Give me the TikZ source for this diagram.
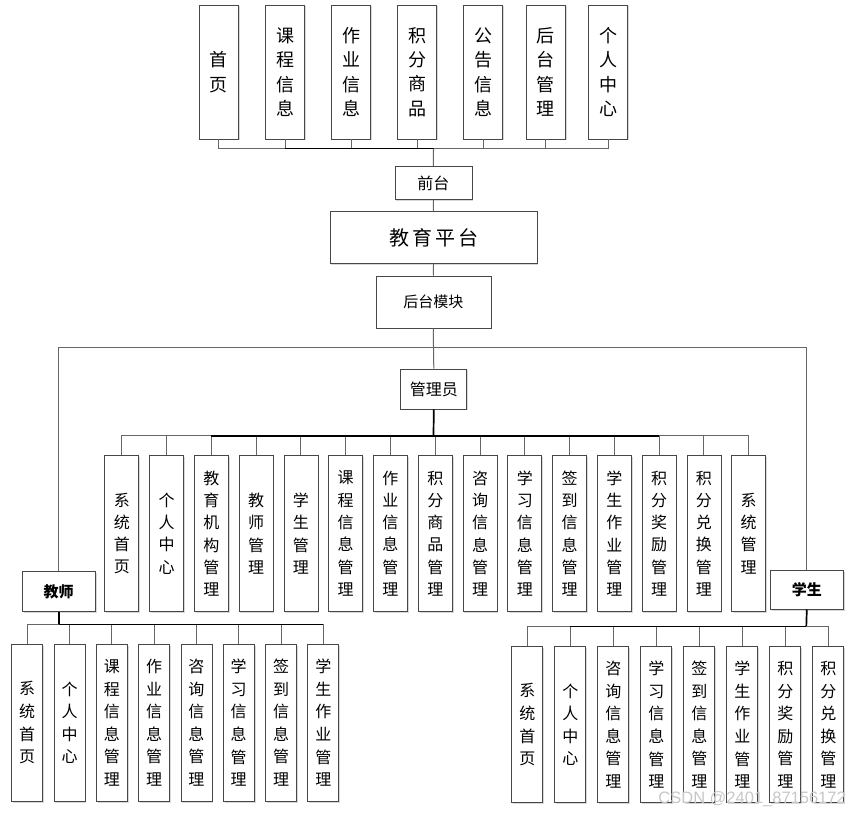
\documentclass[tikz,border=0pt]{standalone}
\usepackage{fontspec}
\newfontfamily\cjk{Noto Sans CJK SC}
\usetikzlibrary{shadows}
\begin{document}
\begin{tikzpicture}[x=1pt,y=1pt,
  box/.style={draw=black!72, line width=0.8pt, fill=white, inner sep=0pt, align=center,
    drop shadow={shadow xshift=1.3pt, shadow yshift=-1.3pt, fill=black!30, opacity=0.5}},
  conn/.style={draw=black!60, line width=1pt},
  bold/.style={draw=black, line width=1.7pt},
  topbox/.style={box, minimum width=39pt, minimum height=134pt, font=\cjk\fontsize{18}{24.4}\selectfont},
  admbox/.style={box, minimum width=34pt, minimum height=156pt, font=\cjk\fontsize{16}{22.3}\selectfont},
  subbox/.style={box, minimum width=31pt, minimum height=156pt, font=\cjk\fontsize{16}{22.6}\selectfont},
  hbox/.style={box, font=\cjk\fontsize{16}{18}\selectfont}]
\useasboundingbox (0,0) rectangle (851,-815);
\fill[white] (0,0) rectangle (851,-815);

% coordinates for buses
\coordinate (tb) at (433.5,-148.7);
\coordinate (hub) at (433.5,-347.3);
\coordinate (ab) at (433.5,-435.7);
\coordinate (jb) at (58.7,-624.7);
\coordinate (xb) at (806.3,-626.7);

% top boxes
\foreach \x/\t [count=\i] in {218.8/{首\\页},285/{课\\程\\信\\息},351/{作\\业\\信\\息},417/{积\\分\\商\\品},483/{公\\告\\信\\息},545.7/{后\\台\\管\\理},608.2/{个\\人\\中\\心}}
  \node[topbox] (t\i) at (\x,-72) {\t};

\node[hbox, minimum width=77pt, minimum height=33pt] (qt) at (433.4,-183) {前台};
\node[box, minimum width=207pt, minimum height=52pt, font=\cjk\fontsize{20}{22}\selectfont] (pt) at (433.5,-237.7) {教\hspace{3pt}育\hspace{3pt}平\hspace{3pt}台};
\node[hbox, minimum width=115pt, minimum height=52pt, font=\cjk\fontsize{15}{18}\selectfont] (hm) at (433.4,-302) {后台模块};
\node[hbox, minimum width=66pt, minimum height=40pt] (gly) at (433.8,-389) {管理员};
\node[hbox, minimum width=73pt, minimum height=40pt, font=\cjk\fontsize{15}{18}\selectfont\bfseries] (js) at (58.7,-591.7) {教师};
\node[hbox, minimum width=73pt, minimum height=39pt, font=\cjk\fontsize{15}{18}\selectfont\bfseries] (xs) at (806.8,-589.7) {学生};

% admin children
\foreach \t [count=\i] in {{系\\统\\首\\页},{个\\人\\中\\心},{教\\育\\机\\构\\管\\理},{教\\师\\管\\理},{学\\生\\管\\理},{课\\程\\信\\息\\管\\理},{作\\业\\信\\息\\管\\理},{积\\分\\商\\品\\管\\理},{咨\\询\\信\\息\\管\\理},{学\\习\\信\\息\\管\\理},{签\\到\\信\\息\\管\\理},{学\\生\\作\\业\\管\\理},{积\\分\\奖\\励\\管\\理},{积\\分\\兑\\换\\管\\理},{系\\统\\管\\理}}
  \node[admbox] (a\i) at ({121.8+(\i-1)*44.78},-533.5) {\t};

% teacher children
\foreach \t [count=\i] in {{系\\统\\首\\页},{个\\人\\中\\心},{课\\程\\信\\息\\管\\理},{作\\业\\信\\息\\管\\理},{咨\\询\\信\\息\\管\\理},{学\\习\\信\\息\\管\\理},{签\\到\\信\\息\\管\\理},{学\\生\\作\\业\\管\\理}}
  \node[subbox, minimum height=157pt] (c\i) at ({27.2+(\i-1)*42.3},-722.7) {\t};

% student children
\foreach \t [count=\i] in {{系\\统\\首\\页},{个\\人\\中\\心},{咨\\询\\信\\息\\管\\理},{学\\习\\信\\息\\管\\理},{签\\到\\信\\息\\管\\理},{学\\生\\作\\业\\管\\理},{积\\分\\奖\\励\\管\\理},{积\\分\\兑\\换\\管\\理}}
  \node[subbox] (s\i) at ({527.3+(\i-1)*43.0},-724.7) {\t};

% connectors
\begin{scope}[on background layer/.style={}]
\foreach \i in {1,...,7} \draw[conn] (t\i.south) |- (tb);
\draw[bold, line width=1.2pt] (t2.south |- tb) -- (tb);
\draw[conn] (tb) -- (qt.north);
\draw[conn] (qt.south) -- (pt.north);
\draw[conn] (pt.south) -- (hm.north);
\draw[conn] (hm.south) -- (hub);
\draw[conn] (hub) -- (gly.north);
\draw[conn] (js.north) |- (hub);
\draw[conn] (xs.north) |- (hub);
\draw[bold] (gly.south) -- (ab);
\foreach \i in {1,...,15} \draw[conn] (a\i.north) |- (ab);
\draw[bold] (a3.north |- ab) -- (a13.north |- ab);
\draw[bold] (js.south) -- (jb);
\foreach \i in {1,...,8} \draw[conn] (c\i.north) |- (jb);
\draw[bold, line width=1.3pt] (jb) -- (c8.north |- jb);
\draw[bold] (xs.south) -- (xb);
\foreach \i in {1,...,8} \draw[conn] (s\i.north) |- (xb);
\draw[bold, line width=1.3pt] (s2.north |- xb) -- (xb);
\end{scope}

% watermark
\node[font=\fontspec{Liberation Sans}\fontsize{16.5}{18}\selectfont, text=black!22, inner sep=0pt, anchor=east] (wm) at (846,-799) {CSDN @2401\_87156172};
\end{tikzpicture}
\end{document}
